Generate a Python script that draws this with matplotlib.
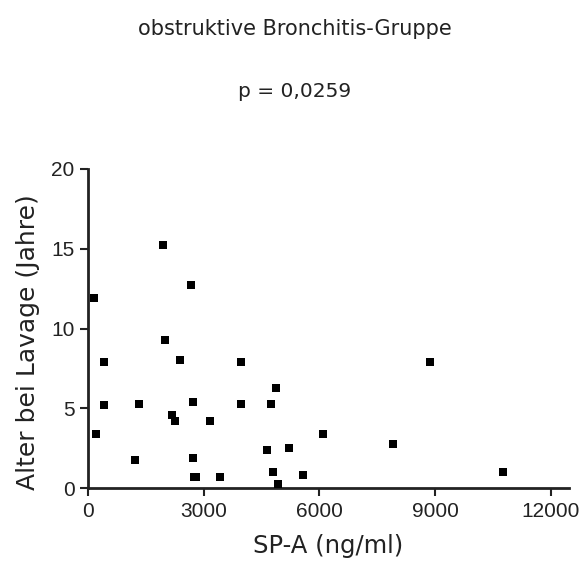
import matplotlib
matplotlib.use("Agg")
import matplotlib.pyplot as plt

plt.rcParams['font.family'] = ['DejaVu Sans']

# Data
sp_a = [156, 208, 416, 416, 1212, 1334, 1957, 2000, 2174, 2260, 2381, 2676,
        2711, 2711, 2745, 2790, 3170, 3430, 3966, 3966, 4633, 4746, 4806,
        4884, 4928, 5210, 5580, 6090, 7911, 8870, 10747]
alter = [11.92, 3.38, 7.89, 5.20, 1.77, 5.28, 15.22, 9.29, 4.59, 4.20, 8.00,
         12.71, 5.39, 1.88, 0.67, 0.67, 4.20, 0.67, 7.89, 5.28, 2.38, 5.28,
         0.98, 6.28, 0.27, 2.48, 0.79, 3.38, 2.78, 7.89, 0.98]

x_ticks = [0, 3000, 6000, 9000, 12000]
y_ticks = [0, 5, 10, 15, 20]

title = "obstruktive Bronchitis-Gruppe"
subtitle = "p = 0,0259"
xlabel = "SP-A (ng/ml)"
ylabel = "Alter bei Lavage (Jahre)"

W, H = 583, 565
fig = plt.figure(figsize=(W / 100, H / 100), dpi=100)
ax_h = 488 - 169
ax_w = 569 - 88
ax = fig.add_axes([88 / W, 1 - 488 / H, ax_w / W, ax_h / H])

ax.scatter(sp_a, alter, marker='s', s=34, color='black', linewidths=0, clip_on=False, zorder=3)

ax.set_xlim(0, 12470)
ax.set_ylim(0, 20)
ax.set_xticks(x_ticks)
ax.set_yticks(y_ticks)
ax.tick_params(direction='out', length=5.8, width=1.5, labelsize=15, colors='#222222')
ax.tick_params(axis='x', pad=4.5)
ax.tick_params(axis='y', pad=4)
for lbl in ax.get_xticklabels() + ax.get_yticklabels():
    lbl.set_fontfamily('Liberation Sans')

for s in ['top', 'right']:
    ax.spines[s].set_visible(False)
for s in ['left', 'bottom']:
    ax.spines[s].set_linewidth(2)
    ax.spines[s].set_color('#222222')

ax.set_xlabel(xlabel, fontsize=17.5, color='#222222')
ax.set_ylabel(ylabel, fontsize=18, color='#222222')
ax.xaxis.set_label_coords(0.5, (488 - 534) / ax_h)
ax.yaxis.set_label_coords((40 - 88) / ax_w, (488 - 342) / ax_h)

fig.text(295 / W, 1 - 35 / H, title, ha='center', va='baseline', fontsize=15, color='#222222')
fig.text(294.5 / W, 1 - 97 / H, subtitle, ha='center', va='baseline', fontsize=14.5, color='#222222')

fig.savefig("out.png", dpi=100)
